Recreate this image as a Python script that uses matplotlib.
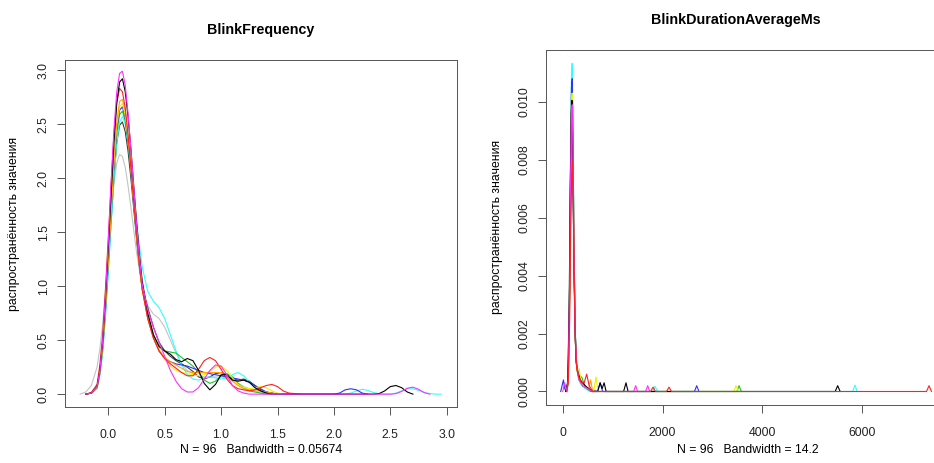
import numpy as np
import matplotlib
matplotlib.use("Agg")
import matplotlib.pyplot as plt

plt.rcParams['font.family'] = ['Liberation Sans', 'DejaVu Sans']

na = float("nan")

# ---- BlinkFrequency: density curves on a shared x grid ----
freq_x = [-0.25, -0.2, -0.15, -0.1, -0.075, -0.05, -0.025, 0.0, 0.025, 0.05,
          0.075, 0.1, 0.125, 0.15, 0.175, 0.2, 0.225, 0.25, 0.275, 0.3,
          0.35, 0.4, 0.45, 0.5, 0.55, 0.6, 0.65, 0.7, 0.75, 0.8, 0.85, 0.9, 0.95,
          1.0, 1.05, 1.1, 1.15, 1.2, 1.25, 1.3, 1.35, 1.4, 1.45, 1.5, 1.55, 1.6,
          1.7, 1.8, 1.9, 2.0, 2.05, 2.1, 2.15, 2.2, 2.25, 2.3, 2.35, 2.4, 2.45,
          2.5, 2.55, 2.6, 2.65, 2.7, 2.75, 2.8, 2.85, 2.9, 2.95]

freq_gray = [0, 0.02, 0.08, 0.25, 0.42, 0.65, 0.95, 1.30, 1.65, 1.95, 2.14, 2.22, 2.20, 2.10, 1.93, 1.73, 1.52, 1.32, 1.15, 1.00,
             0.82, 0.74, 0.70, 0.62, 0.50, 0.38, 0.28, 0.22, 0.19, 0.17, 0.16, 0.16, 0.16, 0.16, 0.15, 0.13, 0.10, 0.07, 0.05, 0.03, 0.02, 0.01, 0, 0, na, na,
             na, na, na, na, na, na, na, na, na, na, na, na, na, na, na, na, na, na, na, na, na, na, na]
freq_dark = [na, 0, 0.01, 0.06, 0.19, 0.41, 0.76, 1.17, 1.60, 2.01, 2.33, 2.49, 2.52, 2.43, 2.25, 2.00, 1.72, 1.44, 1.19, 0.98,
             0.80, 0.62, 0.48, 0.40, 0.35, 0.31, 0.28, 0.25, 0.21, 0.16, 0.14, 0.16, 0.19, 0.20, 0.18, 0.14, 0.13, 0.14, 0.12, 0.08, 0.04, 0.02, 0.01, 0, 0, na,
             na, na, na, na, na, na, na, na, na, na, na, na, na, na, na, na, na, na, na, na, na, na, na]
freq_cyan = [na, 0, 0.01, 0.05, 0.17, 0.38, 0.72, 1.12, 1.57, 2.00, 2.33, 2.52, 2.57, 2.50, 2.33, 2.10, 1.85, 1.60, 1.38, 1.18,
             0.95, 0.86, 0.80, 0.70, 0.55, 0.40, 0.27, 0.18, 0.14, 0.13, 0.15, 0.16, 0.15, 0.14, 0.15, 0.18, 0.20, 0.17, 0.11, 0.06, 0.03, 0.01, 0, 0, 0, 0,
             0, 0, 0, 0, 0, 0, 0.01, 0.03, 0.045, 0.035, 0.015, 0.005, 0, 0, 0.01, 0.03, 0.05, 0.05, 0.035, 0.015, 0.005, 0, 0]
freq_green = [na, 0, 0.01, 0.06, 0.20, 0.43, 0.80, 1.22, 1.67, 2.10, 2.42, 2.59, 2.62, 2.53, 2.33, 2.07, 1.78, 1.50, 1.25, 1.02,
              0.72, 0.55, 0.45, 0.40, 0.39, 0.38, 0.34, 0.30, 0.26, 0.20, 0.13, 0.10, 0.12, 0.17, 0.19, 0.16, 0.10, 0.06, 0.03, 0.02, 0.01, 0, 0, na, na, na,
              na, na, na, na, na, na, na, na, na, na, na, na, na, na, na, na, na, na, na, na, na, na, na]
freq_blue = [na, 0, 0.01, 0.06, 0.20, 0.44, 0.80, 1.23, 1.69, 2.12, 2.46, 2.63, 2.66, 2.56, 2.35, 2.08, 1.77, 1.47, 1.20, 0.98,
             0.70, 0.52, 0.40, 0.33, 0.30, 0.28, 0.27, 0.26, 0.24, 0.22, 0.20, 0.19, 0.18, 0.17, 0.16, 0.15, 0.14, 0.13, 0.11, 0.08, 0.05, 0.02, 0.01, 0, 0, 0,
             0, 0, 0, 0, 0.01, 0.04, 0.05, 0.04, 0.01, 0, na, na, na, na, na, na, na, na, na, na, na, na, na]
freq_yellow = [na, 0, 0.01, 0.06, 0.20, 0.44, 0.81, 1.24, 1.70, 2.15, 2.49, 2.66, 2.69, 2.58, 2.37, 2.09, 1.78, 1.48, 1.20, 0.97,
               0.72, 0.55, 0.42, 0.32, 0.26, 0.22, 0.20, 0.19, 0.18, 0.17, 0.18, 0.21, 0.25, 0.26, 0.22, 0.15, 0.09, 0.06, 0.05, 0.06, 0.07, 0.06, 0.03, 0.01, 0, na,
               na, na, na, na, na, na, na, na, na, na, na, na, na, na, na, na, na, na, na, na, na, na, na]
freq_orange = [na, 0, 0.01, 0.07, 0.21, 0.45, 0.83, 1.27, 1.74, 2.19, 2.53, 2.71, 2.73, 2.62, 2.40, 2.12, 1.80, 1.50, 1.22, 0.98,
               0.70, 0.52, 0.40, 0.34, 0.30, 0.27, 0.24, 0.21, 0.20, 0.20, 0.20, 0.20, 0.20, 0.20, 0.17, 0.12, 0.08, 0.05, 0.04, 0.04, 0.03, 0.02, 0.01, 0, na, na,
               na, na, na, na, na, na, na, na, na, na, na, na, na, na, na, na, na, na, na, na, na, na, na]
freq_red = [na, 0, 0.015, 0.09, 0.27, 0.55, 0.98, 1.45, 1.95, 2.40, 2.70, 2.83, 2.80, 2.65, 2.40, 2.10, 1.78, 1.48, 1.20, 0.97,
            0.70, 0.52, 0.40, 0.33, 0.28, 0.24, 0.20, 0.17, 0.17, 0.23, 0.31, 0.34, 0.31, 0.23, 0.14, 0.08, 0.05, 0.04, 0.03, 0.04, 0.06, 0.08, 0.09, 0.07, 0.03, 0.01,
            0, na, na, na, na, na, na, na, na, na, na, na, na, na, na, na, na, na, na, na, na, na, na]
freq_black = [na, 0, 0.01, 0.07, 0.22, 0.48, 0.88, 1.35, 1.85, 2.33, 2.70, 2.89, 2.92, 2.80, 2.57, 2.27, 1.93, 1.60, 1.30, 1.05,
              0.75, 0.55, 0.44, 0.40, 0.37, 0.32, 0.30, 0.33, 0.31, 0.22, 0.10, 0.04, 0.09, 0.18, 0.18, 0.13, 0.12, 0.13, 0.11, 0.06, 0.03, 0.01, 0, 0, 0, 0,
              0, 0, 0, 0, 0, 0, 0, 0, 0, 0, 0, 0.005, 0.03, 0.07, 0.08, 0.06, 0.02, 0, na, na, na, na, na]
freq_magenta = [na, 0, 0.01, 0.07, 0.22, 0.50, 0.92, 1.42, 1.97, 2.45, 2.80, 2.97, 2.99, 2.86, 2.60, 2.27, 1.92, 1.58, 1.28, 1.02,
                0.78, 0.62, 0.48, 0.35, 0.22, 0.12, 0.05, 0.02, 0.02, 0.06, 0.14, 0.22, 0.27, 0.26, 0.18, 0.08, 0.03, 0.01, 0, 0, 0, 0, 0, 0, 0, 0,
                0, 0, 0, 0, 0, 0, 0, 0, 0, 0, 0, 0, 0, 0, 0.005, 0.025, 0.055, 0.065, 0.045, 0.015, 0, na, na]

freq_curves = [freq_gray, freq_dark, freq_cyan, freq_green, freq_blue,
               freq_yellow, freq_orange, freq_red, freq_black, freq_magenta]
curve_colors = ['#c4c4c4', '#3c3c3c', '#30ffff', '#20c020', '#3030ff',
                '#f0f000', '#ffa500', '#ff2020', 'black', '#ff30ff']

# ---- BlinkDurationAverageMs: knots for each curve ----
dur_gray_x = [60, 100, 140, 160, 175, 190, 205, 225, 250, 280, 330, 400, 500, 600]
dur_gray_y = [0, 0.0004, 0.0034, 0.0068, 0.0085, 0.0088, 0.0075, 0.0045, 0.002, 0.0009, 0.0004, 0.0002, 0.0001, 0]
dur_dark_x = [80, 110, 140, 160, 175, 190, 205, 225, 250, 280, 330, 400, 500, 600]
dur_dark_y = [0, 0.0003, 0.0034, 0.007, 0.0089, 0.0092, 0.0077, 0.0045, 0.0018, 0.0008, 0.0004, 0.0002, 0.0001, 0]
dur_cyan_x = [90, 120, 140, 160, 175, 190, 205, 225, 250, 280, 320, 380, 450, 550, 1800, 1850, 1900, 5810, 5858, 5900]
dur_cyan_y = [0, 0.0005, 0.004, 0.0085, 0.0109, 0.01133, 0.0095, 0.0055, 0.0022, 0.0008, 0.0004, 0.0002, 0.0001, 0, 0, 0.00018, 0, 0, 0.00022, 0]
dur_green_x = [70, 110, 140, 160, 175, 190, 205, 225, 250, 280, 330, 380, 420, 480, 560, 3490, 3533, 3580]
dur_green_y = [0, 0.0004, 0.004, 0.0082, 0.0102, 0.0105, 0.0088, 0.0051, 0.0021, 0.0009, 0.0005, 0.0005, 0.0003, 0.0001, 0, 0, 0.0002, 0]
dur_blue_x = [-40, 0, 15, 40, 70, 110, 140, 160, 175, 190, 205, 225, 250, 280, 330, 400, 500, 700, 750, 800, 2640, 2685, 2730]
dur_blue_y = [0, 0.0003, 0.0004, 0.0001, 0, 0.0004, 0.004, 0.0083, 0.0105, 0.0108, 0.009, 0.0052, 0.0021, 0.0009, 0.0004, 0.0002, 0.0001, 0, 0.0003, 0, 0, 0.0002, 0]
dur_yellow_x = [70, 110, 140, 160, 175, 190, 205, 225, 250, 280, 310, 330, 360, 420, 500, 620, 667, 710, 3430, 3473, 3520]
dur_yellow_y = [0, 0.0004, 0.0039, 0.008, 0.01, 0.0103, 0.0086, 0.005, 0.002, 0.0009, 0.0006, 0.0008, 0.0004, 0.0002, 0.0001, 0, 0.0005, 0, 0, 0.0002, 0]
dur_orange_x = [80, 110, 140, 160, 175, 190, 205, 225, 250, 280, 330, 400, 520, 560, 600, 700]
dur_orange_y = [0, 0.0003, 0.0035, 0.0073, 0.0092, 0.0095, 0.008, 0.0046, 0.0019, 0.0008, 0.0004, 0.0002, 0.0001, 0.0004, 0, 0]
dur_black_x = [60, 100, 130, 150, 170, 185, 200, 220, 245, 270, 300, 350, 400, 450, 520, 600, 700, 750, 790, 830, 870, 1220, 1268, 1310, 5460, 5510, 5560]
dur_black_y = [0, 0.0003, 0.003, 0.007, 0.0096, 0.01005, 0.0086, 0.005, 0.0022, 0.001, 0.0007, 0.0004, 0.0003, 0.0002, 0.0001, 0, 0, 0.0003, 0.0001, 0.0003, 0, 0, 0.0003, 0, 0, 0.0002, 0]
dur_magenta_x = [0, 40, 80, 110, 140, 160, 175, 190, 205, 225, 250, 280, 330, 400, 500, 600, 1420, 1462, 1500, 1660, 1703, 1745]
dur_magenta_y = [0, 0.0003, 0, 0.0004, 0.0037, 0.0077, 0.0096, 0.0099, 0.0083, 0.0048, 0.002, 0.0009, 0.0004, 0.0002, 0.0001, 0, 0, 0.0002, 0, 0, 0.0002, 0]
dur_red_x = [80, 110, 140, 160, 180, 195, 210, 230, 255, 280, 320, 380, 430, 480, 530, 600, 1760, 1810, 1860, 2080, 2130, 2180, 7290, 7341, 7390]
dur_red_y = [0, 0.0003, 0.0025, 0.0055, 0.0075, 0.0079, 0.0068, 0.004, 0.0017, 0.0008, 0.0005, 0.0003, 0.0003, 0.0006, 0.0002, 0, 0, 0.00015, 0, 0, 0.00015, 0, 0, 0.0002, 0]

dur_curves = [(dur_gray_x, dur_gray_y, '#c4c4c4'), (dur_dark_x, dur_dark_y, '#3c3c3c'),
              (dur_cyan_x, dur_cyan_y, '#30ffff'), (dur_green_x, dur_green_y, '#20c020'),
              (dur_blue_x, dur_blue_y, '#3030ff'), (dur_yellow_x, dur_yellow_y, '#f0f000'),
              (dur_orange_x, dur_orange_y, '#ffa500'), (dur_black_x, dur_black_y, 'black'),
              (dur_magenta_x, dur_magenta_y, '#ff30ff'), (dur_red_x, dur_red_y, '#ff2020')]

ylab = "распространённость значения"
W, H = 934, 463


def r_look(ax):
    # base R plot look: grey box, outward ticks, vertical y labels
    for s in ax.spines.values():
        s.set_color('#555555')
        s.set_linewidth(0.7)
    ax.tick_params(direction='out', length=6, width=0.7, color='#555555',
                   labelsize=8.8, labelcolor='#222222')
    ax.tick_params(axis='x', pad=10)
    ax.tick_params(axis='y', pad=5, labelrotation=90)
    for lab in ax.get_yticklabels():
        lab.set_va('center')


fig = plt.figure(figsize=(W / 100, H / 100), dpi=100)

ax1 = fig.add_axes([65 / W, (H - 407) / H, 392 / W, 347 / H])
for ys, c in zip(freq_curves, curve_colors):
    ax1.plot(freq_x, ys, color=c, lw=0.8)
ax1.set_xlim(-0.384, 3.091)
ax1.set_ylim(-0.119, 3.094)
ax1.set_xticks([0.0, 0.5, 1.0, 1.5, 2.0, 2.5, 3.0])
ax1.set_yticks([0.0, 0.5, 1.0, 1.5, 2.0, 2.5, 3.0])
ax1.set_xticklabels(["0.0", "0.5", "1.0", "1.5", "2.0", "2.5", "3.0"])
ax1.set_yticklabels(["0.0", "0.5", "1.0", "1.5", "2.0", "2.5", "3.0"])
r_look(ax1)

ax2 = fig.add_axes([546 / W, (H - 404.5) / H, 400 / W, 354.5 / H])
for xs, ys, c in dur_curves:
    ax2.plot(xs, ys, color=c, lw=0.8)
ax2.set_xlim(-335, 7681)
ax2.set_ylim(-0.000449, 0.01179)
ax2.set_xticks([0, 2000, 4000, 6000])
ax2.set_yticks([0.0, 0.002, 0.004, 0.006, 0.008, 0.010])
ax2.set_xticklabels(["0", "2000", "4000", "6000"])
ax2.set_yticklabels(["0.000", "0.002", "0.004", "0.006", "0.008", "0.010"])
r_look(ax2)

fig.text(261 / W, 1 - 30 / H, "BlinkFrequency", ha='center', va='center',
         fontsize=10.3, fontweight='bold')
fig.text(736 / W, 1 - 20 / H, "BlinkDurationAverageMs", ha='center', va='center',
         fontsize=10.3, fontweight='bold')
fig.text(261 / W, 1 - 450 / H, "N = 96   Bandwidth = 0.05674", ha='center', va='center',
         fontsize=8.8)
fig.text(748 / W, 1 - 450 / H, "N = 96   Bandwidth = 14.2", ha='center', va='center',
         fontsize=8.8)
fig.text(14 / W, 1 - 224 / H, ylab, rotation=90, ha='center', va='center', fontsize=8.8)
fig.text(497 / W, 1 - 227 / H, ylab, rotation=90, ha='center', va='center', fontsize=8.8)

fig.savefig("out.png", dpi=100, facecolor='white')
